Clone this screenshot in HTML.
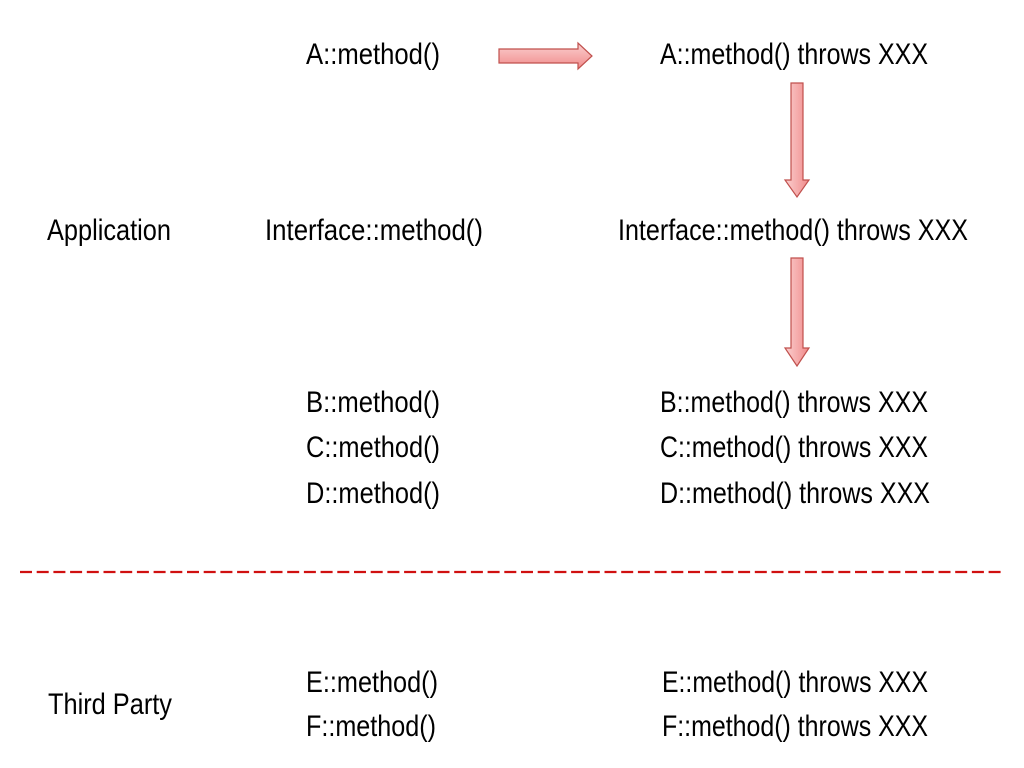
<!DOCTYPE html>
<html><head><meta charset="utf-8"><style>
html,body{margin:0;padding:0;background:#fff;width:1024px;height:768px;overflow:hidden}
text{font-family:"Liberation Sans",sans-serif;font-size:30px;fill:#000}
</style></head><body>
<svg width="1024" height="768" viewBox="0 0 1024 768">
<defs>
<linearGradient id="gh" x1="0" y1="0" x2="0" y2="1"><stop offset="0" stop-color="#fbd0d0"/><stop offset="1" stop-color="#f08a8a"/></linearGradient>
<linearGradient id="gv" x1="0" y1="0" x2="1" y2="0"><stop offset="0" stop-color="#fbd0d0"/><stop offset="1" stop-color="#f08a8a"/></linearGradient>
</defs>
<text x="47" y="240" textLength="124" lengthAdjust="spacingAndGlyphs">Application</text>
<text x="48" y="714" textLength="124" lengthAdjust="spacingAndGlyphs">Third Party</text>

<text x="306" y="64" textLength="134" lengthAdjust="spacingAndGlyphs">A::method()</text>
<text x="265" y="240" textLength="218" lengthAdjust="spacingAndGlyphs">Interface::method()</text>
<text x="306" y="412" textLength="134" lengthAdjust="spacingAndGlyphs">B::method()</text>
<text x="306" y="457" textLength="134" lengthAdjust="spacingAndGlyphs">C::method()</text>
<text x="306" y="503" textLength="134" lengthAdjust="spacingAndGlyphs">D::method()</text>
<text x="306" y="692" textLength="132" lengthAdjust="spacingAndGlyphs">E::method()</text>
<text x="306" y="736" textLength="130" lengthAdjust="spacingAndGlyphs">F::method()</text>

<text x="660" y="64" textLength="268" lengthAdjust="spacingAndGlyphs">A::method() throws XXX</text>
<text x="618" y="240" textLength="350" lengthAdjust="spacingAndGlyphs">Interface::method() throws XXX</text>
<text x="660" y="412" textLength="268" lengthAdjust="spacingAndGlyphs">B::method() throws XXX</text>
<text x="660" y="457" textLength="268" lengthAdjust="spacingAndGlyphs">C::method() throws XXX</text>
<text x="660" y="503" textLength="270" lengthAdjust="spacingAndGlyphs">D::method() throws XXX</text>
<text x="662" y="692" textLength="266" lengthAdjust="spacingAndGlyphs">E::method() throws XXX</text>
<text x="662" y="736" textLength="266" lengthAdjust="spacingAndGlyphs">F::method() throws XXX</text>

<polygon points="499,49 578,49 578,43 592,56 578,69 578,63 499,63" fill="url(#gh)" stroke="#c0504d" stroke-width="1.2"/>
<polygon points="791,83 803,83 803,180 809,180 797,197 785,180 791,180" fill="url(#gv)" stroke="#c0504d" stroke-width="1.2"/>
<polygon points="791,258 803,258 803,348 809,348 797,366 785,348 791,348" fill="url(#gv)" stroke="#c0504d" stroke-width="1.2"/>

<line x1="20" y1="572" x2="1003" y2="572" stroke="#d01010" stroke-width="2.2" stroke-dasharray="12,4.7"/>
</svg>
</body></html>
